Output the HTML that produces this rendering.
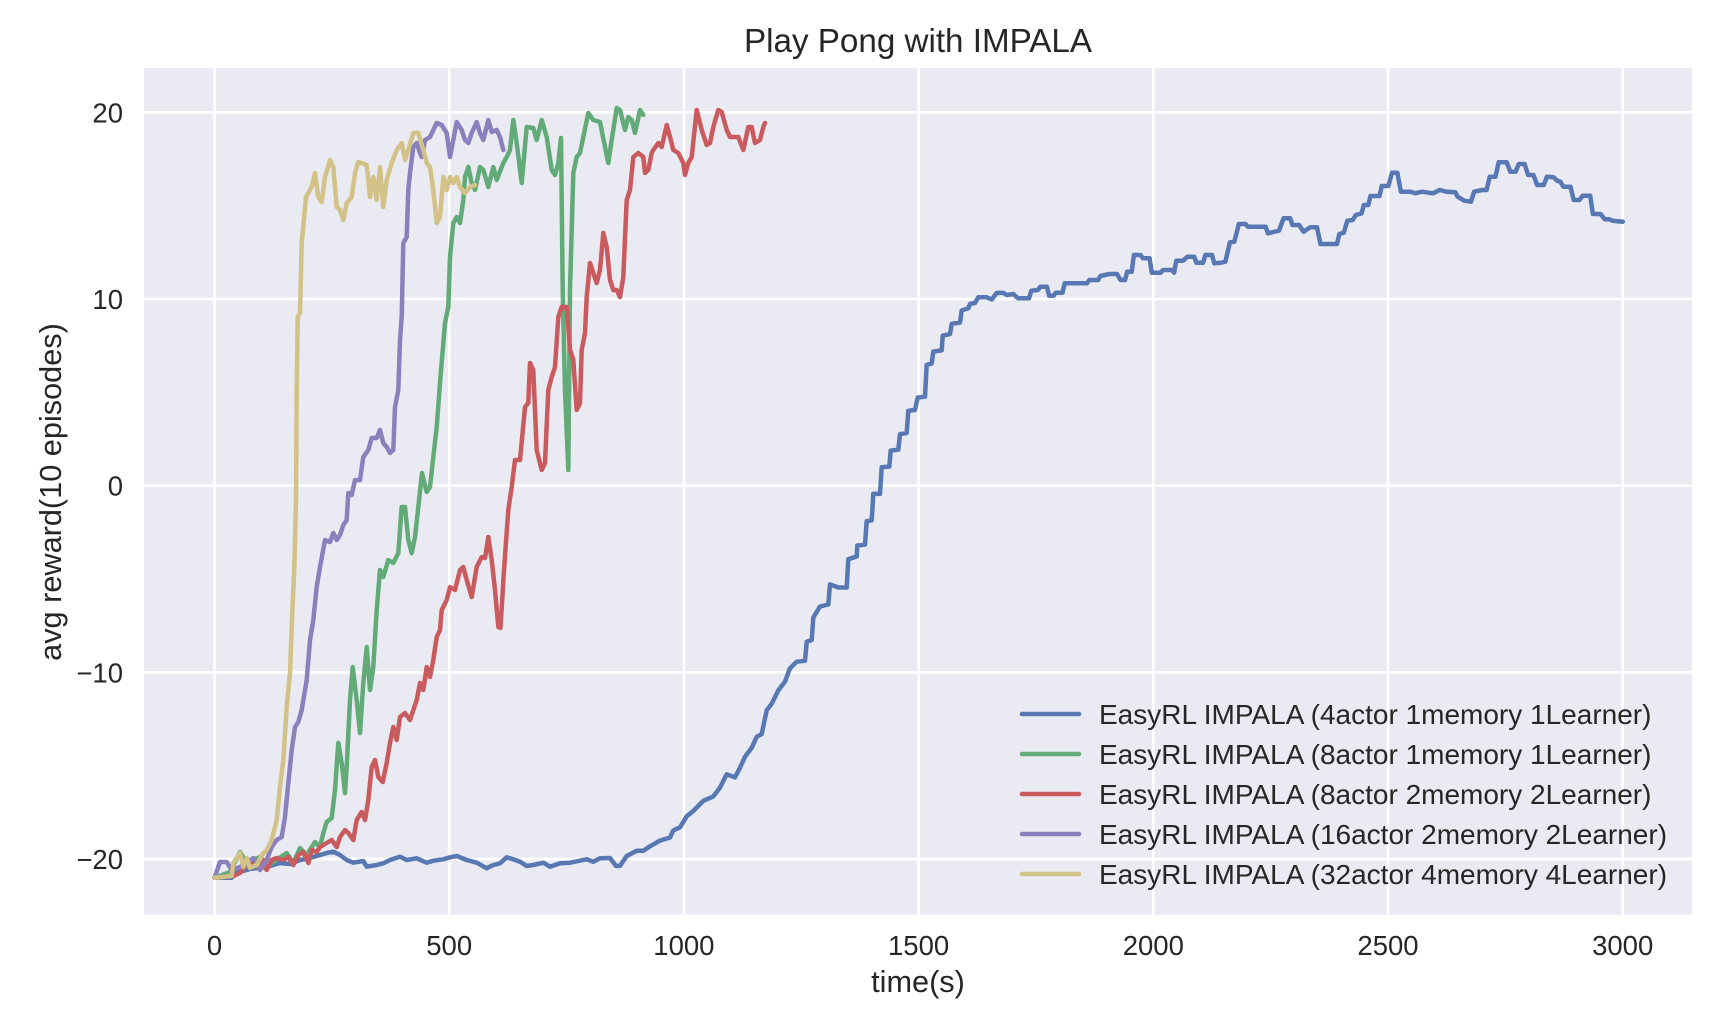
<!DOCTYPE html>
<html>
<head>
<meta charset="utf-8">
<style>
  html, body { margin: 0; padding: 0; background: #ffffff; }
  svg { display: block; }
  text { font-family: "Liberation Sans", Arial, sans-serif; fill: #262626; }
</style>
</head>
<body>
<svg width="1730" height="1016" viewBox="0 0 1730 1016" xmlns="http://www.w3.org/2000/svg">
  <rect x="0" y="0" width="1730" height="1016" fill="#ffffff"/>
  <!-- plot area -->
  <rect x="144" y="68" width="1548" height="846.7" fill="#EAEAF2"/>
  <!-- grid -->
  <g stroke="#ffffff" stroke-width="2.6">
    <line x1="214.5" y1="68" x2="214.5" y2="914.7"/>
    <line x1="449.2" y1="68" x2="449.2" y2="914.7"/>
    <line x1="683.9" y1="68" x2="683.9" y2="914.7"/>
    <line x1="918.6" y1="68" x2="918.6" y2="914.7"/>
    <line x1="1153.3" y1="68" x2="1153.3" y2="914.7"/>
    <line x1="1388" y1="68" x2="1388" y2="914.7"/>
    <line x1="1622.7" y1="68" x2="1622.7" y2="914.7"/>
    <line x1="144" y1="112.3" x2="1692" y2="112.3"/>
    <line x1="144" y1="299" x2="1692" y2="299"/>
    <line x1="144" y1="485.7" x2="1692" y2="485.7"/>
    <line x1="144" y1="672.4" x2="1692" y2="672.4"/>
    <line x1="144" y1="859.1" x2="1692" y2="859.1"/>
  </g>

  <g fill="none" stroke-width="4.5" stroke-linejoin="round" stroke-linecap="round">
    <!-- blue -->
    <polyline stroke="#5878B4" points="214.5,877.8 231.7,877.8 236,873 243.3,871 250,869 266.7,867 280,863 290,864 300,860 310,858 320,855 326.7,853 333.3,851.7 340,855 346.7,860 353.3,862.7 363.3,861 366.7,866.7 376.7,865 383.3,863.3 390,860 400,856.7 406.7,860 416.7,858.3 426.7,862.7 433.3,860.7 443.3,859.3 450,857.3 456.7,856 466.7,860 476.7,862.7 486.7,868.3 493.3,865 500,863.3 506.7,857.3 513.3,859.3 520,861.7 526.7,866 533.3,865 543.3,862.7 550,866.7 560,863.3 570,862.7 580,860.7 586.7,859.3 593.3,861.7 600,858.3 610,858 616,866 620,865.8 626.7,856 636.7,850.7 643.3,850.7 650,846.3 660,840.6 670,837.5 673.3,830.4 680,827.3 686.7,816.3 693.3,811 703.3,800.8 713.3,796.4 720,787.6 726.7,774.3 735,777.4 740,767.7 745,756.7 751.7,747.8 756.7,736.8 761.7,734 766.7,710.3 771.7,703.7 778.3,690.4 785,681.6 790,668.3 796.7,661.7 805,660.8 806.7,641.8 811.7,640 813.3,617.5 820,606.5 828.3,604.5 830,584.4 838.3,587.5 846.7,587.5 848.3,559.2 856.7,556.5 857.3,545.5 865,544.6 866.7,521.2 871.7,520.3 873.3,493.9 880,493.9 881.7,467.3 889.3,466.5 890.7,450.6 898.3,449.7 900,434.2 906.7,432.9 908.3,410.8 915,409.9 917.7,397.6 925,396.7 926.7,364.9 931.7,363.6 933.3,351.6 941.7,350.3 942.7,335.7 950,334 951.7,323.8 960,322.5 961.7,310.5 968.3,308.3 970,303.9 975,303 978.3,297.3 986.7,297.3 991.7,299.5 996.7,292.9 1003.3,292.9 1006.7,295 1013.4,294 1017.9,298.3 1029,298.3 1031.3,290.7 1038,290 1040.2,286.7 1046.9,286.7 1049.1,295.7 1053.6,295.7 1055.8,292.7 1062.5,292.7 1064.7,283.3 1087,283.3 1089.3,280 1098.2,280 1100.4,276 1109.4,274 1117,274 1120.5,280 1125,280 1127.2,271.7 1131.7,271.7 1133.9,255 1140.6,255 1142.9,258.3 1149.6,258.3 1151.8,272.7 1160.7,272.7 1162.9,270 1171.9,270 1174.1,272.7 1176.3,260.7 1183,260.7 1187.5,256.7 1194.2,256.7 1196.4,262.7 1203.1,262.7 1205.4,255 1212,255 1214.3,263.3 1221,262.7 1225.4,261.7 1229.9,242.3 1234.4,241.7 1238.8,224 1245.5,224 1247.8,226.7 1265.6,226.7 1267.9,233.3 1274.6,231.7 1279,230.7 1283.5,218.3 1290.2,218.3 1292.4,225 1299.1,225 1303.6,231.7 1310.3,227.3 1317,227.3 1320.5,244 1337,244 1339.3,234 1343.8,232.7 1347.3,220.7 1352.7,220 1355.8,215 1361.6,213.3 1363.8,205 1368.3,205 1370.5,196 1379.5,196 1381.7,186 1388.4,186 1392,172.7 1397.3,172.7 1400.9,191.7 1410.7,191.7 1415.2,193.3 1421.9,191.7 1428.6,192.7 1433,193.3 1439.7,190 1446.4,191.7 1455.4,192.3 1457.6,196.7 1464.3,200.7 1471,201.7 1474.1,191.7 1482.1,190 1486.6,190 1489.7,176.7 1495.5,176.7 1498.7,162.3 1506.7,162.3 1510.3,171.7 1515.6,171.7 1518.8,164 1524.6,164 1528.1,175 1533.5,175 1537.1,185 1543.8,185 1546.9,176.7 1553.6,177.3 1557.1,180.7 1560.3,181.7 1563.4,186.7 1570.5,186.7 1573.7,200 1579.5,200 1582.6,195.7 1590.2,195.7 1592.9,214 1600.4,214 1604.9,219.3 1609.4,219.3 1612.5,220.7 1622.8,221.7"/>
    <!-- green -->
    <polyline stroke="#62AB78" points="214.5,877.8 230,872 240,852 246.7,863 260,857 266.7,867 273.3,862 286.7,853 293.3,863 300,848 306.7,855 315,842 320,847 323.3,833 326.7,822 331.7,818 335,790 338.3,743 341.7,763 345,793 346.7,767 350,700 352.7,667 356.7,700 360,733 363.3,683 366.7,647 370,690 373.3,667 376.7,610 380,570 383.3,577 388.3,560 393.3,563 398.3,553 401.7,507 405,507 408.3,540 411.7,553 415,537 418.3,507 422,473 426.7,492 430,487 433.3,457 436.7,427 440,383 445,323 448.3,307 450,257 453.3,223 456.7,217 460,223 463.3,200 465,177 468.3,167 471.7,183 475,190 480,167 483.3,170 488.3,187 493.3,167 496.7,180 503.3,163 506.7,157 510,150 513.3,120 516.7,143 521.7,183 526.7,127 533.3,128 536.7,140 541.7,120 546.7,137 551.7,170 555,175 558.3,163 561,138 562.7,290 565,390 568.3,470 570,290 573.3,173 576.7,157 580,153 583.3,137 588.3,113 593.3,120 600,122 605,147 608.3,163 611.7,140 616.7,108 620,110 625,130 628.3,117 631.7,120 635,133 640,110 643.3,115"/>
    <!-- red -->
    <polyline stroke="#C95A5E" points="214.5,877.8 233.3,876 240,873 250,860 256.7,867 263.3,860 266.7,870 271.7,860 276.7,858 283.3,860 288.3,857 293.3,865 298.3,855 303.3,852 308.3,863 311.7,850 316.7,852 320,847 326.7,843 331.7,840 336.7,847 340,837 345,830 348.3,833 353.3,840 356.7,820 361.7,812 365,820 368.3,800 371.7,767 375,760 378.3,777 382.7,782 386.7,763 390,743 393.3,727 396.7,740 400,717 405,713 410,720 416.7,700 420,683 423.3,690 426.7,667 430,677 433.3,660 436.7,637 440,630 441.7,610 446.7,600 450,587 455,590 460,570 463.3,567 466.7,580 471.7,597 476.7,567 481.7,557 485,558 488.3,537 491.7,560 495,590 498.3,627 500.5,628 504,570 508.3,510 511.7,487 515,460 520,460 525,407 528.3,403 530,363 533.3,370 536.7,450 541.7,470 545,463 548.3,390 551.7,377 555,367 558.3,317 561.7,307 566.7,307 570,350 573.3,360 576.7,410 580,403 581.7,350 585,333 586.7,297 590,263 593.3,273 596.7,283 600,270 603.3,233 606.7,247 610,280 613.3,290 616.7,290 620,297 623.3,277 626.7,200 630,190 633.3,157 638.3,153 643.3,157 645,173 648.3,170 651.7,153 653.3,150 658.3,143 661.7,147 666.7,125 670,137 673.3,150 678.3,153 683.3,163 685,175 688.3,163 691.7,157 696.7,110 701.7,130 706.7,145 710,143 713.3,127 718.3,110 721.7,112 726.7,130 730,137 733.3,137 738.3,137 743.3,150 748.3,127 751.7,127 755,143 760,140 763.3,127 765,123"/>
    <!-- purple -->
    <polyline stroke="#8A80BB" points="214.5,877.8 220,862 226.7,862 231.7,870 240,867 246.7,863 253.3,858 260,870 266.7,860 271.7,847 276.7,840 281.7,837 285,817 288.3,783 291.7,750 295,727 298.3,722 301.7,710 306.7,680 310,640 313.3,620 316.7,587 320,567 325,540 330,542 333.3,533 336.7,540 340,535 343.3,525 346.7,520 348.3,493 351.7,495 355,480 360,480 363.3,457 368.3,450 371.7,438 376.7,438 380,430 383.3,443 386.7,447 390,453 393.3,450 395,407 398.3,390 400,340 401.7,317 403.3,243 406.7,237 408.3,190 410,173 413.3,147 416.7,143 420,153 421.7,157 425,140 430,137 433.3,130 436.7,123 441.7,125 446.7,133 450,157 453.3,140 456.7,122 461.7,130 465,140 468.3,143 471.7,133 476.7,122 480,133 483.3,140 488.3,120 491.7,132 496.7,130 500,137 503.3,150"/>
    <!-- yellow -->
    <polyline stroke="#D3C287" points="214.5,877.8 231.7,876 233.3,863 240,853 243.3,867 246.7,858 250,868 256.7,865 263.3,853 266.7,850 271.7,840 276.7,820 280,787 283.3,760 286.7,707 290,673 291.7,627 294.3,567 296,500 296.7,390 297.7,317 300,313 301.7,243 306,197 308.3,193 311.7,187 315,173 318.3,197 321.7,202 325,177 330,160 333.3,167 336.7,207 340,210 343.3,220 346.7,203 351.7,197 355,173 358.3,162 366.7,165 370,197 373.3,177 376.7,200 380,167 383.3,207 386.7,180 391.7,163 396.7,150 401.7,143 405,160 408.3,150 413.3,133 418.3,133 423.3,150 426.7,163 430,167 433.3,190 436.7,223 440,217 443.3,177 446.7,190 450,177 453.3,183 456.7,177 460,187 465,193 470,187 475,185"/>
  </g>

  <!-- legend -->
  <g stroke-width="4.5" stroke-linecap="round">
    <line x1="1022" y1="714" x2="1079" y2="714" stroke="#5878B4"/>
    <line x1="1022" y1="754" x2="1079" y2="754" stroke="#62AB78"/>
    <line x1="1022" y1="794" x2="1079" y2="794" stroke="#C95A5E"/>
    <line x1="1022" y1="834" x2="1079" y2="834" stroke="#8A80BB"/>
    <line x1="1022" y1="874" x2="1079" y2="874" stroke="#D3C287"/>
  </g>
  <g font-size="28">
    <text x="1099" y="724">EasyRL IMPALA (4actor 1memory 1Learner)</text>
    <text x="1099" y="764">EasyRL IMPALA (8actor 1memory 1Learner)</text>
    <text x="1099" y="804">EasyRL IMPALA (8actor 2memory 2Learner)</text>
    <text x="1099" y="844">EasyRL IMPALA (16actor 2memory 2Learner)</text>
    <text x="1099" y="884">EasyRL IMPALA (32actor 4memory 4Learner)</text>
  </g>

  <!-- y tick labels -->
  <g font-size="27.5" text-anchor="end">
    <text x="123" y="122.3">20</text>
    <text x="123" y="309">10</text>
    <text x="123" y="495.7">0</text>
    <text x="123" y="682.4">−10</text>
    <text x="123" y="869.1">−20</text>
  </g>
  <!-- x tick labels -->
  <g font-size="27.5" text-anchor="middle">
    <text x="214.5" y="955">0</text>
    <text x="449.2" y="955">500</text>
    <text x="683.9" y="955">1000</text>
    <text x="918.6" y="955">1500</text>
    <text x="1153.3" y="955">2000</text>
    <text x="1388" y="955">2500</text>
    <text x="1622.7" y="955">3000</text>
  </g>

  <!-- axis labels & title -->
  <text x="918" y="992" font-size="30.7" text-anchor="middle">time(s)</text>
  <text x="0" y="0" font-size="30.7" text-anchor="middle" transform="translate(61,492) rotate(-90)">avg reward(10 episodes)</text>
  <text x="918" y="52" font-size="33.2" text-anchor="middle">Play Pong with IMPALA</text>
</svg>
</body>
</html>
